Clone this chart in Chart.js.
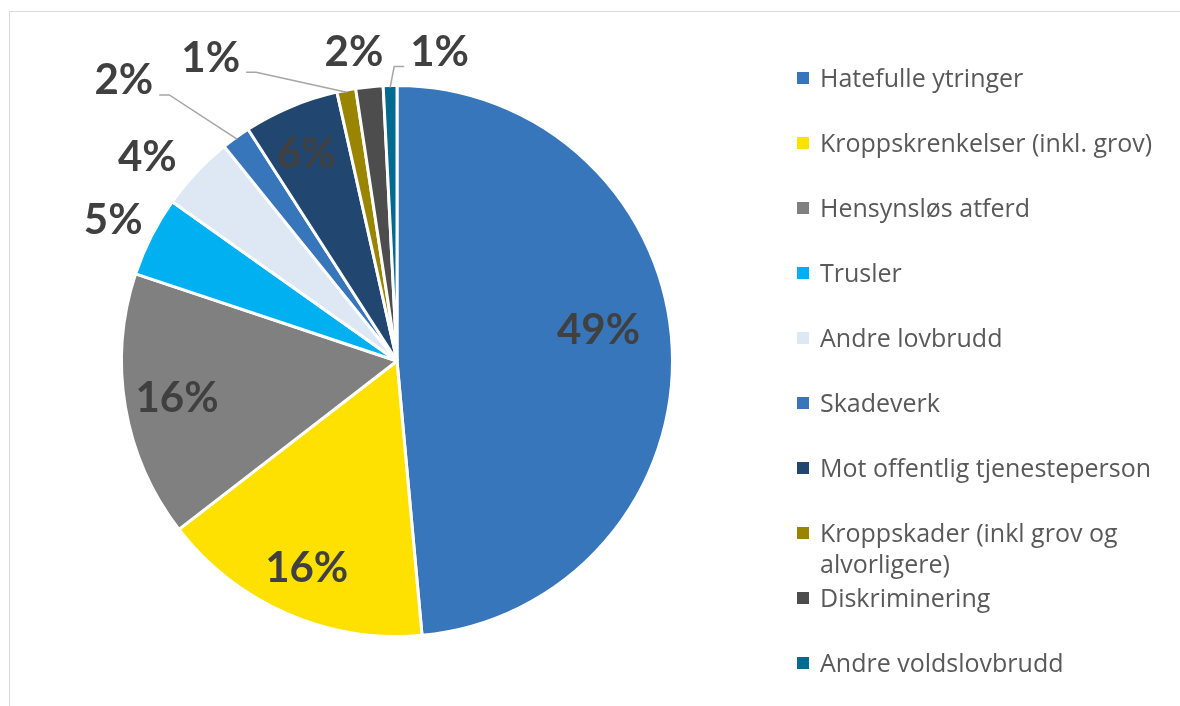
<!DOCTYPE html>
<html>
<head>
<meta charset="utf-8">
<script src="https://cdn.jsdelivr.net/npm/chart.js@4/dist/chart.umd.min.js"></script>
<style>
  body { margin: 0; background: #fff; }
  #wrap { position: relative; width: 1180px; height: 706px; overflow: hidden; font-family: "Open Sans", Lato, sans-serif; }
  #frame { position: absolute; left: 9px; top: 11px; width: 1300px; height: 800px; border-left: 1px solid #d9d9d9; border-top: 1px solid #d9d9d9; }
  #pieChart { position: absolute; left: 0; top: 0; }
  .leg { position: absolute; left: 797px; width: 383px; font-size: 25px; line-height: 31px; color: #595959; }
  .leg .box { position: absolute; left: 0; top: 10px; width: 12px; height: 12px; }
  .leg .txt { position: absolute; left: 23px; top: 0; width: 358px; }
</style>
</head>
<body>
<div id="wrap">
  <div id="frame"></div>
  <canvas id="pieChart" width="1180" height="706"></canvas>
  <div id="legend"></div>
</div>
<script>

// categories and values (percent)
var categories = [
  'Hatefulle ytringer',
  'Kroppskrenkelser (inkl. grov)',
  'Hensynsløs atferd',
  'Trusler',
  'Andre lovbrudd',
  'Skadeverk',
  'Mot offentlig tjenesteperson',
  'Kroppskader (inkl grov og alvorligere)',
  'Diskriminering',
  'Andre voldslovbrudd'
];
var shares = [48.6, 16.0, 15.6, 4.7, 4.4, 1.7, 5.6, 1.1, 1.6, 0.8];

var colors = ['#3776ba', '#ffe100', '#808080', '#00b0f0', '#dee8f5',
              '#3776ba', '#21466f', '#9a8500', '#4d4d4d', '#006a91'];

// where each percent label sits: radius factor, angle shift (deg), leader line side
var labelLayout = [
  {r: 0.74, shift: -6},
  {r: 0.82, shift: 0},
  {r: 0.81, shift: 0},
  {r: 1.15, shift: -0.5},
  {r: 1.17, shift: -4},
  {r: 1.42, shift: -8.5, leader: 'right'},
  {r: 0.82, shift: -1},
  {r: 1.29, shift: -21, leader: 'right'},
  {r: 1.13, shift: -2.2},
  {r: 1.13, shift: 9.3, leader: 'left'}
];

var total = shares.reduce(function(a, b){ return a + b; }, 0);

var pctLabels = {
  id: 'pctLabels',
  afterDatasetsDraw: function(chart){
    var ctx = chart.ctx;
    var arcs = chart.getDatasetMeta(0).data;
    ctx.save();
    ctx.font = 'bold 42px Lato';
    ctx.textAlign = 'center';
    ctx.textBaseline = 'middle';
    arcs.forEach(function(arc, i){
      var p = arc.getProps(['x', 'y', 'startAngle', 'endAngle', 'outerRadius'], true);
      var mid = (p.startAngle + p.endAngle) / 2;
      var lay = labelLayout[i];
      var a = mid + lay.shift * Math.PI / 180;
      var lx = p.x + Math.cos(a) * p.outerRadius * lay.r;
      var ly = p.y + Math.sin(a) * p.outerRadius * lay.r;
      var txt = Math.round(shares[i] / total * 100) + '%';
      if (lay.leader) {
        var w = ctx.measureText(txt).width;
        var ex = p.x + Math.cos(mid) * (p.outerRadius - 2);
        var ey = p.y + Math.sin(mid) * (p.outerRadius - 2);
        var sx, kx;
        if (lay.leader === 'right') {
          sx = lx + w / 2 + 6; kx = sx + 10;
        } else {
          sx = lx - w / 2 - 6; kx = sx - 10;
        }
        var sy = ly + 14;
        ctx.beginPath();
        ctx.strokeStyle = '#a6a6a6';
        ctx.lineWidth = 1.5;
        ctx.moveTo(sx, sy);
        ctx.lineTo(kx, sy);
        ctx.lineTo(ex, ey);
        ctx.stroke();
      }
      ctx.fillStyle = '#404040';
      ctx.fillText(txt, lx, ly);
    });
    ctx.restore();
  }
};

var pieChart = document.getElementById('pieChart').getContext('2d');
new Chart(pieChart, {
  type: 'pie',
  data: {
    labels: categories,
    datasets: [{
      data: shares,
      backgroundColor: colors,
      borderColor: '#ffffff',
      borderWidth: 3
    }]
  },
  options: {
    responsive: false,
    animation: false,
    layout: {
      padding: {left: 120, top: 84, right: 506, bottom: 68}
    },
    plugins: {
      legend: {display: false},
      tooltip: {enabled: false}
    }
  },
  plugins: [pctLabels]
});

// legend on the right
var legend = document.getElementById('legend');
categories.forEach(function(name, i){
  var item = document.createElement('div');
  item.className = 'leg';
  item.style.top = (62 + i * 65) + 'px';
  var box = document.createElement('div');
  box.className = 'box';
  box.style.background = colors[i];
  var txt = document.createElement('div');
  txt.className = 'txt';
  txt.textContent = name;
  item.appendChild(box);
  item.appendChild(txt);
  legend.appendChild(item);
});
</script>
</body>
</html>
